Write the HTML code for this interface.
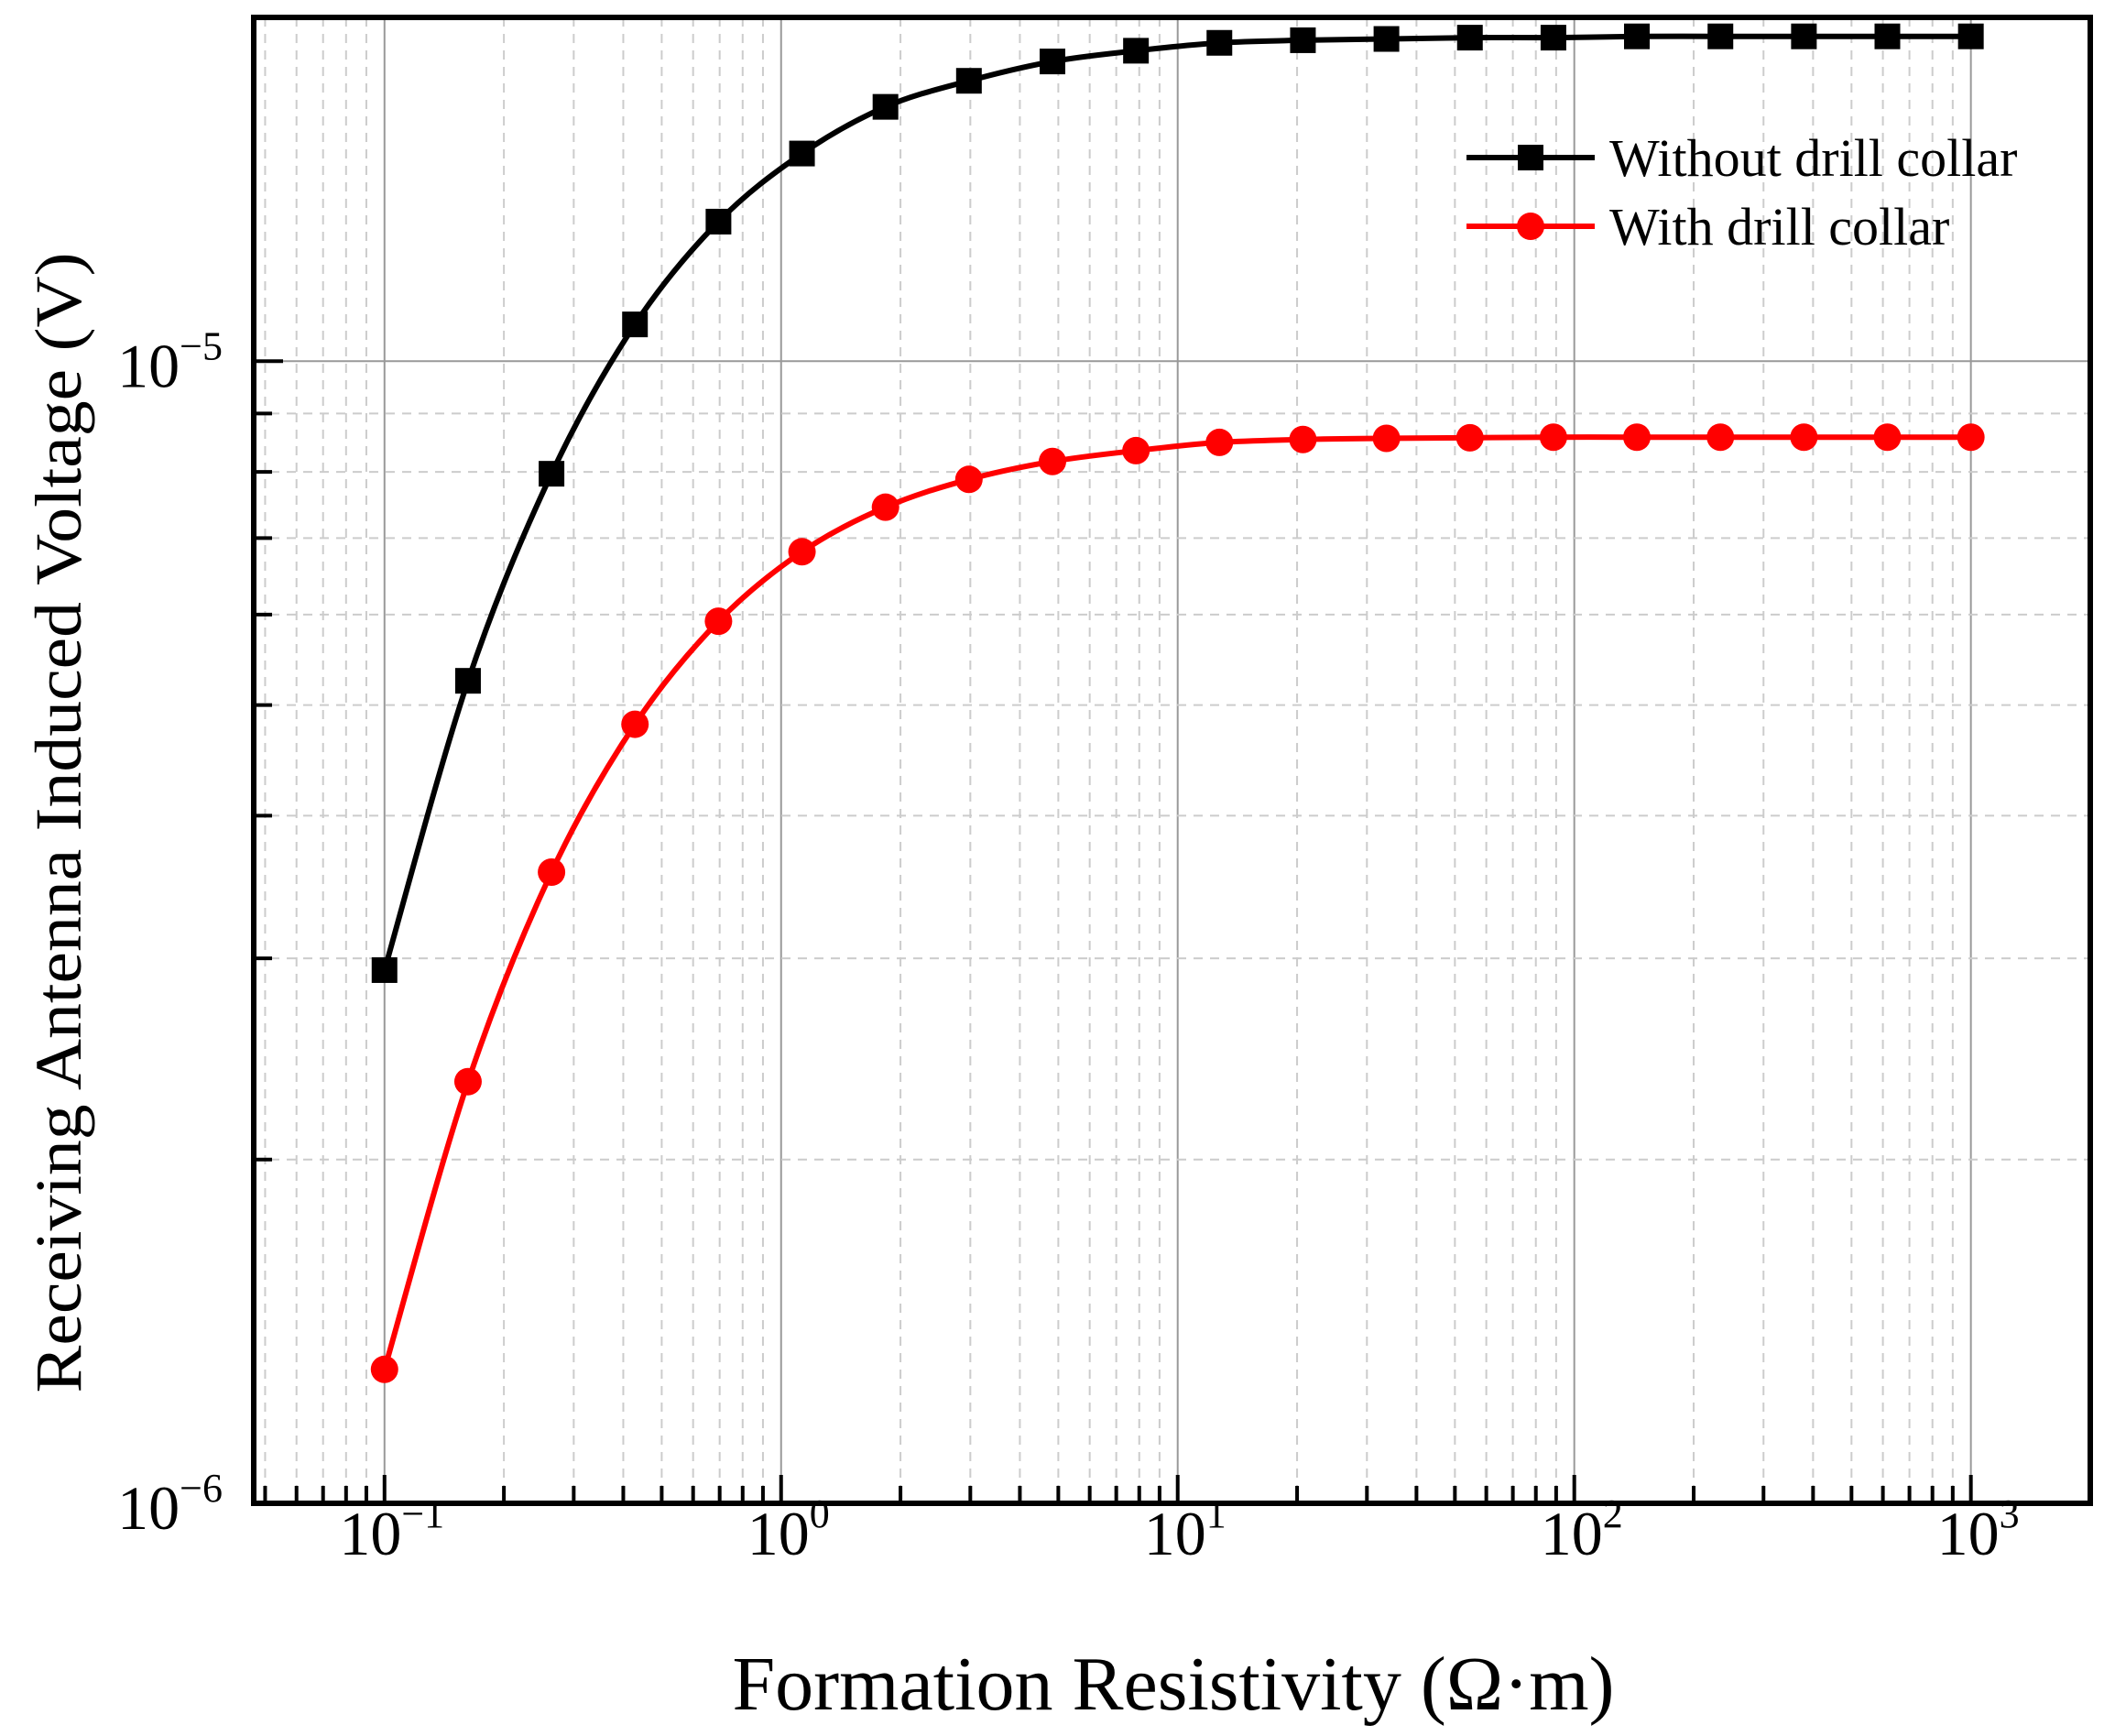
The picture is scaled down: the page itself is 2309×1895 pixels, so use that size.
<!DOCTYPE html>
<html><head><meta charset="utf-8"><style>
body{margin:0;background:#fff}
svg{display:block}
text{font-family:"Liberation Serif",serif;fill:#000}
</style></head><body>
<svg id="chart" width="2309" height="1895" viewBox="0 0 2309 1895" xmlns="http://www.w3.org/2000/svg">
<g id="grid"></g>
<g id="series"></g>
<rect x="277" y="19" width="2005" height="1622" fill="none" stroke="#000" stroke-width="6"/>
<g id="ticks"></g>
<text x="1281" y="1866" font-size="84" text-anchor="middle">Formation Resistivity (Ω·m)</text>
<text transform="translate(88,898) rotate(-90) scale(0.972,0.9)" font-size="80" text-anchor="middle">Receiving Antenna Induced Voltage (V)</text>
<g>
<line x1="1601" y1="172" x2="1741" y2="172" stroke="#000" stroke-width="6"/>
<rect x="1657" y="158" width="28" height="28" fill="#000"/>
<text x="1757" y="192" font-size="58">Without drill collar</text>
<line x1="1601" y1="247" x2="1741" y2="247" stroke="#f00" stroke-width="6"/>
<circle cx="1671" cy="247" r="15" fill="#f00"/>
<text x="1757" y="267" font-size="58">With drill collar</text>
</g>
</svg>
<script>
const xValues=[0.1,0.1624,0.2637,0.4281,0.6952,1.129,1.833,2.976,4.833,7.848,12.74,20.69,33.60,54.56,88.59,143.8,233.6,379.3,615.8,1000];
const withoutCollar=[2.93e-6,5.25e-6,7.97e-6,1.077e-5,1.325e-5,1.52e-5,1.67e-5,1.76e-5,1.83e-5,1.87e-5,1.90e-5,1.91e-5,1.915e-5,1.92e-5,1.92e-5,1.925e-5,1.925e-5,1.925e-5,1.925e-5,1.925e-5];
const withCollar=[1.31e-6,2.34e-6,3.57e-6,4.81e-6,5.92e-6,6.81e-6,7.45e-6,7.88e-6,8.17e-6,8.35e-6,8.49e-6,8.54e-6,8.56e-6,8.57e-6,8.58e-6,8.58e-6,8.58e-6,8.58e-6,8.58e-6,8.58e-6];
const xTickExps=[-1,0,1,2,3];
const yTickExps=[-6,-5];
const NS="http://www.w3.org/2000/svg";
const L=277,R=2282,T=19,B=1641;
const xmin=Math.log10(0.0468),xmax=Math.log10(2000);
const ymin=-6,ymax=Math.log10(2e-5);
const xs=v=>L+(Math.log10(v)-xmin)/(xmax-xmin)*(R-L);
const ys=v=>B-(Math.log10(v)-ymin)/(ymax-ymin)*(B-T);
function mk(tag,attrs,parent){const e=document.createElementNS(NS,tag);for(const k in attrs)e.setAttribute(k,attrs[k]);parent.appendChild(e);return e;}
const grid=document.getElementById('grid'),ticks=document.getElementById('ticks'),ser=document.getElementById('series'),svg=document.getElementById('chart');
for(let d=-2;d<=3;d++){for(let m=1;m<=9;m++){const v=m*Math.pow(10,d);if(v<0.0468||v>2000)continue;const x=xs(v);const maj=m===1;
const g=mk('line',{x1:x,x2:x,y1:T,y2:B,stroke:maj?'#999':'#ccc','stroke-width':2,'stroke-dasharray':maj?'none':'10 8'},grid);


const t=mk('line',{x1:x,x2:x,y1:B,y2:B-(maj?31:19),stroke:'#000','stroke-width':4},ticks);

}}
for(let d=-6;d<=-5;d++){for(let m=1;m<=9;m++){const v=m*Math.pow(10,d);if(Math.log10(v)>ymax+1e-9)continue;const y=ys(v);const maj=m===1;
if(y>T+3&&y<B-3){const g=mk('line',{x1:L,x2:R,y1:y,y2:y,stroke:maj?'#999':'#ccc','stroke-width':2,'stroke-dasharray':maj?'none':'10 8'},grid);

}
const t=mk('line',{x1:L,x2:L+(maj?32:20),y1:y,y2:y,stroke:'#000','stroke-width':4},ticks);

}}
xTickExps.forEach(e=>{const x=xs(Math.pow(10,e));const t=mk('text',{x:x+8,y:1697,'font-size':68,'text-anchor':'middle'},svg);


t.innerHTML='10<tspan dy="-30" font-size="44">'+(e<0?'−':'')+Math.abs(e)+'</tspan>';});
yTickExps.forEach(e=>{const y=ys(Math.pow(10,e));const t=mk('text',{x:243,y:y+28,'font-size':68,'text-anchor':'end'},svg);


t.innerHTML='10<tspan dy="-30" font-size="44">−'+Math.abs(e)+'</tspan>';});
function path(vals,color,name){const p=xValues.map((x,i)=>[xs(x),ys(vals[i])]);let d='M'+p[0][0]+','+p[0][1];
for(let i=0;i<p.length-1;i++){const p0=p[Math.max(i-1,0)],p1=p[i],p2=p[i+1],p3=p[Math.min(i+2,p.length-1)];
d+=' C'+(p1[0]+(p2[0]-p0[0])/6)+','+(p1[1]+(p2[1]-p0[1])/6)+' '+(p2[0]-(p3[0]-p1[0])/6)+','+(p2[1]-(p3[1]-p1[1])/6)+' '+p2[0]+','+p2[1];}
const e=mk('path',{d:d,fill:'none',stroke:color,'stroke-width':6},ser);


return p;}
const pb=path(withoutCollar,'#000','without-collar');
const pr=path(withCollar,'#f00','with-collar');
pb.forEach(q=>{const m=mk('rect',{x:q[0]-14,y:q[1]-14,width:28,height:28,fill:'#000'},ser);

});
pr.forEach(q=>{const m=mk('circle',{cx:q[0],cy:q[1],r:15,fill:'#f00'},ser);

});
</script>
</body></html>
